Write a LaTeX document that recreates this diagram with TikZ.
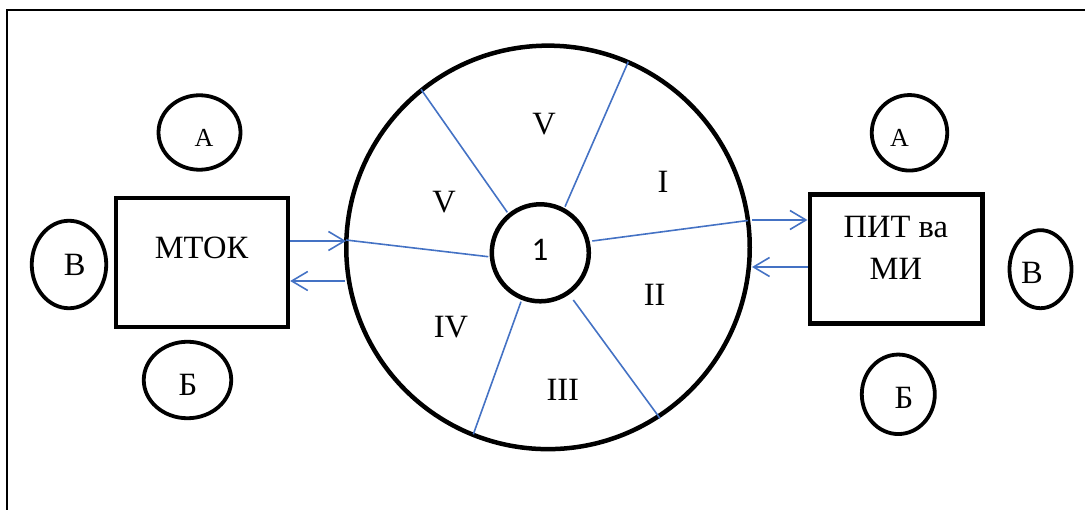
\documentclass[tikz,border=0pt]{standalone}
\usepackage{fontspec}
\setmainfont{Liberation Serif}
\newfontfamily\digitfont{Carlito}
\usetikzlibrary{shapes.geometric,arrows.meta}
\definecolor{spokeblue}{RGB}{68,114,196}
\tikzset{
  oval/.style={draw, ellipse, line width=3.8pt, inner sep=0pt},
  blockbox/.style={draw, rectangle, line width=4.4pt, inner sep=0pt},
  ring/.style={draw, circle, line width=4.5pt, inner sep=0pt},
  txt/.style={inner sep=0pt, font=\fontsize{32.5}{42}\selectfont},
  smalltxt/.style={inner sep=0pt, font=\fontsize{26}{30}\selectfont},
  spoke/.style={draw=spokeblue, line width=1.6pt},
  arr/.style={draw=spokeblue, line width=1.6pt, -{Straight Barb[length=16pt,width=19pt,line width=1.6pt]}},
  frameline/.style={line width=1.7pt}
}
\begin{document}
\begin{tikzpicture}[x=1pt,y=-1pt]
\useasboundingbox (0,0) rectangle (1085,510);
% frame
\coordinate (fbl) at (7,510);
\coordinate (ftl) at (7,10);
\coordinate (ftr) at (1085,10);
\draw[frameline] (fbl) -- (ftl) -- (ftr);

% wheel
\node[ring, minimum size=403.5pt] (outer) at (548,247.4) {};
\node[ring, minimum size=97pt] (inner) at (540.3,252.8) {};

% spokes
\coordinate (s1a) at (507.3,212.3); \coordinate (s1b) at (421,89.3);
\coordinate (s2a) at (565,206.7);   \coordinate (s2b) at (628.3,61.7);
\coordinate (s3a) at (592.3,241);   \coordinate (s3b) at (748,220.5);
\coordinate (s4a) at (573.3,300);   \coordinate (s4b) at (660,418.3);
\coordinate (s5a) at (521,301.7);   \coordinate (s5b) at (473.3,434.3);
\coordinate (s6a) at (488.3,256.7); \coordinate (s6b) at (346,240);
\draw[spoke] (s1a) -- (s1b);
\draw[spoke] (s2a) -- (s2b);
\draw[spoke] (s3a) -- (s3b);
\draw[spoke] (s4a) -- (s4b);
\draw[spoke] (s5a) -- (s5b);
\draw[spoke] (s6a) -- (s6b);

% sector labels
\node[txt] (lVt) at (544,124.5) {V};
\node[txt] (lI) at (663,182.3) {I};
\node[txt] (lVl) at (444,202) {V};
\node[inner sep=0pt, font=\digitfont\fontsize{33}{40}\selectfont] (l1) at (540,249.7) {1};
\node[txt] (lII) at (654.7,295.3) {II};
\node[txt] (lIV) at (451,327.5) {IV};
\node[txt] (lIII) at (562.8,389.5) {III};

% left group
\node[blockbox, minimum width=172pt, minimum height=129pt] (mtok) at (202,262.5) {};
\node[txt] (mtokt) at (201.5,247.5) {МТОК};
\node[oval, minimum width=82pt, minimum height=74.5pt] (la) at (199.5,132.5) {};
\node[smalltxt] (lat) at (204,138.3) {А};
\node[oval, minimum width=74.5pt, minimum height=87.5pt] (lv) at (69,264.5) {};
\node[txt] (lvt) at (74.7,265) {В};
\node[oval, minimum width=87.5pt, minimum height=76.5pt] (lb) at (187.5,380) {};
\node[txt] (lbt) at (188,384.5) {Б};

% right group
\node[blockbox, minimum width=172.6pt, minimum height=129pt] (pit) at (896,259.2) {};
\node[txt, align=center] (pitt) at (895.8,248.3) {ПИТ ва\\МИ};
\node[oval, minimum width=75.5pt, minimum height=75.5pt] (ra) at (909.5,132.8) {};
\node[smalltxt] (rat) at (899.5,138.3) {А};
\node[oval, minimum width=62pt, minimum height=78pt] (rv) at (1040.5,269.2) {};
\node[txt] (rvt) at (1032,273.3) {В};
\node[oval, minimum width=73pt, minimum height=79.5pt] (rb) at (898.3,394.3) {};
\node[txt] (rbt) at (904,398.3) {Б};

% arrows
\coordinate (cl1) at (346,241);
\coordinate (cl2) at (345,281);
\coordinate (cr1) at (752,220);
\coordinate (cr2) at (752,267);
\draw[arr] (mtok.east |- cl1) -- (cl1);
\draw[arr] (cl2) -- (mtok.east |- cl2);
\draw[arr] (cr1) -- (pit.west |- cr1);
\draw[arr] (pit.west |- cr2) -- (cr2);
\end{tikzpicture}
\end{document}
